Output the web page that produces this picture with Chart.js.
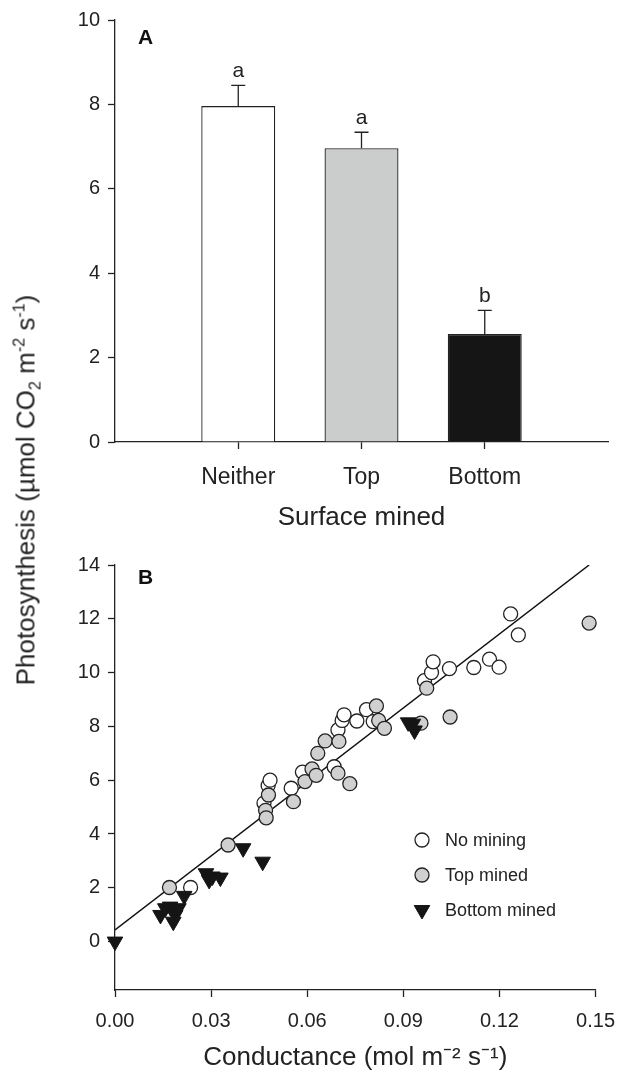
<!DOCTYPE html>
<html>
<head>
<meta charset="utf-8">
<script src="https://cdn.jsdelivr.net/npm/chart.js@4.4.1/dist/chart.umd.min.js"></script>
<style>
  html, body { margin: 0; padding: 0; background: #fff; }
  #wrap { position: relative; width: 627px; height: 1073px; overflow: hidden; }
  canvas { position: absolute; left: 0; }
  #ytitle {
    position: absolute; left: 26px; top: 490px;
    transform: translate(-50%, -50%) rotate(-90deg);
    white-space: nowrap; color: #222;
    font: 26px 'Liberation Sans', Arial, sans-serif;
  }
  #ytitle sub, #ytitle sup { font-size: 0.62em; line-height: 0; }
</style>
</head>
<body>
<div id="wrap">
  <canvas id="chartA" width="627" height="535" style="top:0"></canvas>
  <canvas id="chartB" width="627" height="538" style="top:535px"></canvas>
  <div id="ytitle">Photosynthesis (µmol CO<sub>2</sub> m<sup>-2</sup> s<sup>-1</sup>)</div>
</div>
<script>
// panel A: mean photosynthesis by surface mined
const categories = ['Neither', 'Top', 'Bottom'];
const meanPhoto = [7.96, 6.96, 2.56];
const sePhoto = [0.49, 0.38, 0.56];
const sigLetters = ['a', 'a', 'b'];
const barColors = ['#ffffff', '#cbcdcc', '#151515'];

// panel B: photosynthesis vs conductance
const noMiningX = [0.0236, 0.0465, 0.0478, 0.0484, 0.0550, 0.0585, 0.0684, 0.0696, 0.0709, 0.0715, 0.0755,
  0.0785, 0.0806, 0.0966, 0.0988, 0.0993, 0.1044, 0.1120, 0.1169, 0.1199, 0.1235, 0.1259];
const noMiningY = [2.01, 5.15, 5.80, 6.00, 5.70, 6.30, 6.50, 7.87, 8.22, 8.43, 8.20,
  8.62, 8.18, 9.70, 10.00, 10.40, 10.15, 10.19, 10.50, 10.20, 12.18, 11.40];
const topMinedX = [0.0170, 0.0353, 0.0470, 0.0472, 0.0479, 0.0557, 0.0593, 0.0615, 0.0628, 0.0633, 0.0656,
  0.0696, 0.0699, 0.0733, 0.0816, 0.0823, 0.0841, 0.0955, 0.0973, 0.1046, 0.1480];
const topMinedY = [2.01, 3.59, 4.88, 4.60, 5.45, 5.20, 5.95, 6.42, 6.18, 7.00, 7.46,
  6.26, 7.44, 5.87, 8.76, 8.22, 7.93, 8.12, 9.42, 8.35, 11.84];
const bottomMinedX = [0.0, 0.0142, 0.0157, 0.0172, 0.0188, 0.0182, 0.0198, 0.0216, 0.0284, 0.0294, 0.0304,
  0.0329, 0.0400, 0.0461, 0.0915, 0.0930, 0.0935];
const bottomMinedY = [0.0, 0.99, 1.24, 1.30, 0.99, 0.74, 1.24, 1.70, 2.54, 2.29, 2.42,
  2.38, 3.47, 2.97, 8.15, 8.10, 7.85];
const fitX = [0, 0.148];
const fitY = [0.43, 14.0];

const FONT = "'Liberation Sans', Arial, sans-serif";
const INK = '#222';
Chart.defaults.font.family = FONT;
Chart.defaults.color = INK;

const pts = (xs, ys) => xs.map((x, i) => ({ x, y: ys[i] }));

function panelLabel(text, x, y) {
  return {
    id: 'panelLabel' + text,
    afterDraw(chart) {
      const ctx = chart.ctx;
      ctx.save();
      ctx.font = 'bold 21px ' + FONT;
      ctx.fillStyle = '#111';
      ctx.textAlign = 'left';
      ctx.textBaseline = 'middle';
      ctx.fillText(text, x, y);
      ctx.restore();
    }
  };
}

const errorBars = {
  id: 'errorBars',
  afterDatasetsDraw(chart) {
    const { ctx, scales: { y } } = chart;
    const meta = chart.getDatasetMeta(0);
    ctx.save();
    ctx.strokeStyle = INK;
    ctx.lineWidth = 1.3;
    ctx.fillStyle = INK;
    ctx.font = '21px ' + FONT;
    ctx.textAlign = 'center';
    ctx.textBaseline = 'alphabetic';
    meanPhoto.forEach((m, i) => {
      const bar = meta.data[i + 1];
      const yTop = y.getPixelForValue(m + sePhoto[i]);
      ctx.beginPath();
      ctx.moveTo(bar.x, bar.y);
      ctx.lineTo(bar.x, yTop);
      ctx.moveTo(bar.x - 7, yTop);
      ctx.lineTo(bar.x + 7, yTop);
      ctx.stroke();
      ctx.fillText(sigLetters[i], bar.x, yTop - 8);
    });
    ctx.restore();
  }
};

const scatterLegend = {
  id: 'scatterLegend',
  afterDraw(chart) {
    const ctx = chart.ctx;
    const rows = [1, 2, 3];
    ctx.save();
    ctx.font = '18px ' + FONT;
    ctx.textAlign = 'left';
    ctx.textBaseline = 'middle';
    rows.forEach((di, r) => {
      const ds = chart.data.datasets[di];
      const yy = 305 + r * 35;
      ctx.fillStyle = ds.backgroundColor;
      ctx.strokeStyle = ds.borderColor;
      ctx.lineWidth = ds.borderWidth;
      Chart.helpers.drawPoint(ctx, {
        pointStyle: ds.pointStyle, rotation: ds.rotation || 0,
        radius: ds.pointRadius, borderWidth: ds.borderWidth
      }, 422, yy);
      ctx.fillStyle = INK;
      ctx.fillText(ds.label, 445, yy + 1);
    });
    ctx.restore();
  }
};

const axisGrid = { drawOnChartArea: false, tickLength: 7, tickWidth: 1.3, tickColor: INK, offset: false };
const axisBorder = { display: true, color: INK, width: 1.3 };

new Chart(document.getElementById('chartA'), {
  type: 'bar',
  data: {
    labels: ['', ...categories, ''],
    datasets: [{
      data: [null, ...meanPhoto, null],
      backgroundColor: ['#fff', ...barColors, '#fff'],
      borderColor: INK,
      borderWidth: 1.3,
      barPercentage: 0.6,
      categoryPercentage: 1
    }]
  },
  options: {
    responsive: false,
    animation: false,
    layout: { padding: { top: 16, right: 19, left: 0, bottom: 0 } },
    plugins: { legend: { display: false }, tooltip: { enabled: false } },
    scales: {
      x: {
        offset: false,
        grid: { ...axisGrid, tickColor: c => (c.index >= 1 && c.index <= 3) ? INK : 'rgba(0,0,0,0)' },
        border: axisBorder,
        ticks: { font: { size: 23 }, padding: 15, maxRotation: 0, autoSkip: false },
        title: { display: true, text: 'Surface mined', font: { size: 26 }, padding: { top: 0, bottom: 2 } },
        afterFit: s => { s.height = 535 - 442; }
      },
      y: {
        min: 0, max: 10,
        ticks: { stepSize: 2, font: { size: 20 }, padding: 8 },
        grid: axisGrid,
        border: axisBorder,
        afterFit: s => { s.width = 115; }
      }
    }
  },
  plugins: [errorBars, panelLabel('A', 138, 38)]
});

new Chart(document.getElementById('chartB'), {
  type: 'scatter',
  data: {
    datasets: [
      {
        type: 'line', label: 'fit', data: pts(fitX, fitY),
        borderColor: '#111', borderWidth: 1.5, pointRadius: 0, fill: false, order: 4
      },
      {
        label: 'No mining', data: pts(noMiningX, noMiningY),
        pointStyle: 'circle', pointRadius: 7, backgroundColor: '#ffffff',
        borderColor: INK, borderWidth: 1.3, order: 3, clip: false
      },
      {
        label: 'Top mined', data: pts(topMinedX, topMinedY),
        pointStyle: 'circle', pointRadius: 7, backgroundColor: '#cfd0cf',
        borderColor: INK, borderWidth: 1.3, order: 2, clip: false
      },
      {
        label: 'Bottom mined', data: pts(bottomMinedX, bottomMinedY),
        pointStyle: 'triangle', rotation: 180, pointRadius: 9, backgroundColor: '#151515',
        borderColor: '#151515', borderWidth: 1, order: 1, clip: false
      }
    ]
  },
  options: {
    responsive: false,
    animation: false,
    layout: { padding: { top: 30, right: 19, left: 0, bottom: 0 } },
    plugins: { legend: { display: false }, tooltip: { enabled: false } },
    scales: {
      x: {
        type: 'linear', min: 0, max: 0.15,
        ticks: { stepSize: 0.03, callback: v => v.toFixed(2), font: { size: 20 }, padding: 12, maxRotation: 0 },
        grid: axisGrid,
        border: axisBorder,
        title: { display: true, text: 'Conductance (mol m⁻² s⁻¹)', font: { size: 26 }, padding: { top: 0, bottom: 0 } },
        afterFit: s => { s.height = 538 - 455; }
      },
      y: {
        min: -1.8, max: 14,
        ticks: { stepSize: 2, includeBounds: false, font: { size: 20 }, padding: 8 },
        grid: axisGrid,
        border: axisBorder,
        afterFit: s => { s.width = 115; }
      }
    }
  },
  plugins: [panelLabel('B', 138, 43), scatterLegend]
});
</script>
</body>
</html>
